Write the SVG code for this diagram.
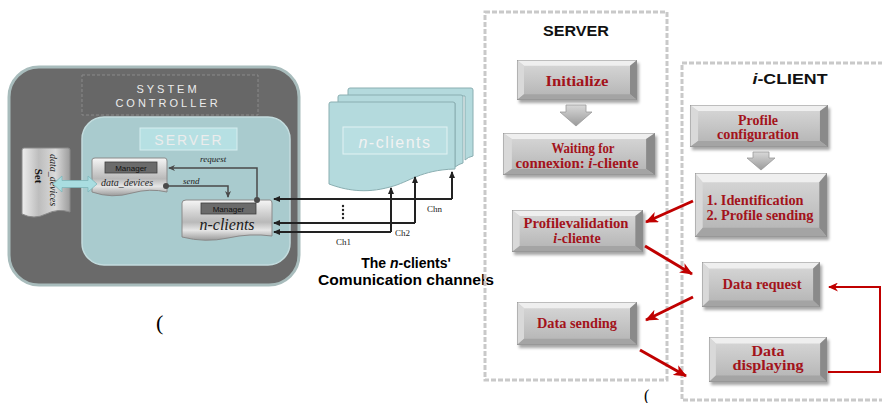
<svg xmlns="http://www.w3.org/2000/svg" xmlns:xlink="http://www.w3.org/1999/xlink" width="882" height="403" viewBox="0 0 882 403">
  <defs>
    <style>
      .btxt { font-family: "Liberation Serif", serif; font-weight: bold; font-size: 14px; fill: #a3131b; text-anchor: middle; }
      .ttl { font-family: "Liberation Sans", sans-serif; font-weight: bold; font-size: 15px; fill: #111; text-anchor: middle; }
      .mgr { font-family: "Liberation Sans", sans-serif; font-size: 8px; fill: #111; text-anchor: middle; }
      .lbl { font-family: "Liberation Serif", serif; font-style: italic; font-size: 9px; fill: #222; }
      .ch { font-family: "Liberation Serif", serif; font-size: 9px; fill: #222; }
      .ghost { font-family: "Liberation Sans", sans-serif; fill: #ececec; text-anchor: middle; }
      .dash { fill: none; stroke: #c9c9c9; stroke-width: 3; stroke-dasharray: 5 2; }
      .red { fill: none; stroke: #c00000; stroke-width: 3; marker-end: url(#rh); }
      .chn { fill: none; stroke: #222; stroke-width: 2; marker-end: url(#bh); }
      .gcon { fill: none; stroke: #4a4a4a; stroke-width: 1.5; }
      .page { fill: #b4dadd; stroke: #8aaeb1; stroke-width: 1; }
    </style>
    <linearGradient id="face" x1="0" y1="0" x2="0" y2="1">
      <stop offset="0" stop-color="#d9d9d9"/>
      <stop offset="0.5" stop-color="#c6c6c6"/>
      <stop offset="1" stop-color="#b2b2b2"/>
    </linearGradient>
    <linearGradient id="metal" x1="0" y1="0" x2="0" y2="1">
      <stop offset="0" stop-color="#f6f6f6"/>
      <stop offset="0.3" stop-color="#d4d4d4"/>
      <stop offset="0.55" stop-color="#b9b9b9"/>
      <stop offset="0.75" stop-color="#e6e6e6"/>
      <stop offset="1" stop-color="#9a9a9a"/>
    </linearGradient>
    <linearGradient id="metalH" x1="0" y1="0" x2="1" y2="0">
      <stop offset="0" stop-color="#eeeeee"/>
      <stop offset="0.35" stop-color="#bdbdbd"/>
      <stop offset="0.7" stop-color="#dadada"/>
      <stop offset="1" stop-color="#9c9c9c"/>
    </linearGradient>
    <linearGradient id="chev" x1="0" y1="0" x2="0" y2="1">
      <stop offset="0" stop-color="#d8d8d8"/>
      <stop offset="1" stop-color="#9a9a9a"/>
    </linearGradient>
    <filter id="sh" x="-10%" y="-10%" width="125%" height="135%">
      <feDropShadow dx="2" dy="3" stdDeviation="1.5" flood-color="#000" flood-opacity="0.35"/>
    </filter>
    <symbol id="btn" viewBox="0 0 120 42" preserveAspectRatio="none">
      <rect x="0" y="0" width="120" height="42" fill="url(#face)"/>
      <polygon points="0,0 120,0 113,6 7,6" fill="#efefef"/>
      <polygon points="0,0 7,6 7,36 0,42" fill="#d9d9d9"/>
      <polygon points="120,0 120,42 113,36 113,6" fill="#8a8a8a"/>
      <polygon points="0,42 7,36 113,36 120,42" fill="#a4a4a4"/>
      <rect x="0" y="0" width="120" height="42" fill="none" stroke="#8c8c8c" stroke-width="1" vector-effect="non-scaling-stroke"/>
    </symbol>
    <marker id="rh" markerWidth="13" markerHeight="11" refX="12" refY="5.5" orient="auto" markerUnits="userSpaceOnUse">
      <path d="M0,0 L13,5.5 L0,11 L3.5,5.5 Z" fill="#c00000"/>
    </marker>
    <marker id="rs" markerWidth="10" markerHeight="9" refX="9" refY="4.5" orient="auto" markerUnits="userSpaceOnUse">
      <path d="M0,0 L10,4.5 L0,9 L3,4.5 Z" fill="#c00000"/>
    </marker>
    <marker id="bh" markerWidth="7" markerHeight="6" refX="6" refY="3" orient="auto" markerUnits="userSpaceOnUse">
      <path d="M0,0 L7,3 L0,6 Z" fill="#222"/>
    </marker>
    <marker id="gh" markerWidth="7" markerHeight="6" refX="6" refY="3" orient="auto" markerUnits="userSpaceOnUse">
      <path d="M0,0 L7,3 L0,6 L2,3 Z" fill="#4a4a4a"/>
    </marker>
  </defs>

  <rect width="882" height="403" fill="#ffffff"/>

  <!-- System controller (left block) -->
  <g id="system-controller">
    <rect x="9" y="67" width="290" height="218" rx="30" fill="#6a6a6a" stroke="#a8bcbc" stroke-width="3"/>
    <rect x="82" y="75" width="176" height="40" fill="#676767" stroke="#8a8a8a" stroke-width="1" stroke-dasharray="3 2"/>
    <text class="ghost" x="168" y="93" font-size="11" letter-spacing="3">SYSTEM</text>
    <text class="ghost" x="168" y="107" font-size="11" letter-spacing="3">CONTROLLER</text>
  </g>

  <g id="server-block">
    <rect x="82" y="117" width="208" height="148" rx="22" fill="#a9cbce" stroke="#c3dcde" stroke-width="1.5"/>
    <rect x="140" y="128" width="97" height="22" fill="#b6e0e3" stroke="#d6eeef" stroke-width="1"/>
    <text class="ghost" x="189" y="145" font-size="14" letter-spacing="2" fill="#f4f4f4">SERVER</text>
  </g>

  <!-- Set of data devices -->
  <g id="set-data-devices">
    <path d="M22,150 Q22,148 24,148 H68 Q70,148 70,150 V212 Q58,208 46,214 Q34,220 22,214 Z" fill="url(#metalH)" stroke="#8a8a8a" stroke-width="1"/>
    <text x="35" y="176" transform="rotate(90 35 176)" font-family="Liberation Serif, serif" font-weight="bold" font-size="11" fill="#111" text-anchor="middle">Set</text>
    <text x="50" y="180" transform="rotate(90 50 180)" font-family="Liberation Serif, serif" font-style="italic" font-size="10" fill="#222" text-anchor="middle">data_devices</text>
  </g>

  <!-- Manager data_devices -->
  <g id="manager-data-devices">
    <path d="M92,160 Q92,158 95,158 H165 Q167,158 167,161 V192 Q150,188 132,193 Q112,199 92,192 Z" fill="url(#metal)" stroke="#8a8a8a" stroke-width="1"/>
    <rect x="105" y="162" width="52" height="11" fill="#6b6b6b" stroke="#3f3f3f" stroke-width="0.8"/>
    <text class="mgr" x="131" y="170.5">Manager</text>
    <text x="127" y="186" font-family="Liberation Serif, serif" font-style="italic" font-size="10" fill="#222" text-anchor="middle">data_devices</text>
  </g>

  <!-- Manager n-clients -->
  <g id="manager-n-clients">
    <path d="M182,203 Q182,200 186,200 H270 Q272,200 272,203 V236 Q250,233 228,238 Q205,243 182,237 Z" fill="url(#metal)" stroke="#8a8a8a" stroke-width="1"/>
    <rect x="201" y="203" width="55" height="11" fill="#6b6b6b" stroke="#3f3f3f" stroke-width="0.8"/>
    <text class="mgr" x="228.5" y="211.5">Manager</text>
    <text x="227" y="230" font-family="Liberation Serif, serif" font-style="italic" font-size="16" fill="#1a1a1a" text-anchor="middle">n-clients</text>
  </g>

  <!-- n-clients page stack -->
  <g id="n-clients-stack">
    <path class="page" d="M348,90 Q348,88 350,88 H471 Q473,88 473,90 V156 Q468,157 465,160 V96 H348 Z"/>
    <path class="page" d="M338,97 Q338,95 340,95 H461 Q463,95 463,97 V163 Q459,164 455,167 V103 H338 Z"/>
    <path class="page" d="M329,104 Q329,102 331,102 H453 Q455,102 455,104 V169 C420,170 410,182 390,187 C365,194 345,190 329,184 Z"/>
    <rect x="343" y="127" width="104" height="27" fill="#b9dfe2" stroke="#e2f2f3" stroke-width="1"/>
    <text x="395" y="148" font-family="Liberation Sans, sans-serif" font-size="16" fill="#f2f2f2" text-anchor="middle" letter-spacing="1.5"><tspan font-style="italic">n</tspan>-clients</text>
  </g>

  <!-- channel captions -->
  <g id="channel-caption">
    <text x="406" y="268" font-family="Liberation Sans, sans-serif" font-weight="bold" font-size="14" fill="#000" text-anchor="middle">The <tspan font-style="italic">n</tspan>-clients'</text>
    <text x="406" y="285" font-family="Liberation Sans, sans-serif" font-weight="bold" font-size="14" fill="#000" text-anchor="middle" textLength="176" lengthAdjust="spacingAndGlyphs">Comunication channels</text>
    <text class="ch" x="427" y="212">Chn</text>
    <text class="ch" x="395" y="236">Ch2</text>
    <text class="ch" x="336" y="245">Ch1</text>
  </g>

  <!-- Server flow panel -->
  <g id="server-panel">
    <rect class="dash" x="485" y="12" width="182" height="368"/>
    <text class="ttl" x="576" y="36" textLength="66" lengthAdjust="spacingAndGlyphs">SERVER</text>
  </g>

  <g id="btn-initialize">
    <use xlink:href="#btn" x="517" y="60" width="120" height="40" filter="url(#sh)"/>
    <text class="btxt" x="577" y="86" textLength="63" lengthAdjust="spacingAndGlyphs">Initialize</text>
  </g>
  <g id="chev-server">
    <polygon points="566,105 586,105 586,112 592,112 576,126 560,112 566,112" fill="url(#chev)" stroke="#999" stroke-width="0.8"/>
  </g>
  <g id="btn-waiting">
    <use xlink:href="#btn" x="503" y="133" width="152" height="42" filter="url(#sh)"/>
    <text class="btxt" x="583" y="153" font-size="12" textLength="63" lengthAdjust="spacingAndGlyphs">Waiting for</text>
    <text class="btxt" x="577" y="168" font-size="12" textLength="123" lengthAdjust="spacingAndGlyphs">connexion: <tspan font-style="italic">i</tspan>-cliente</text>
  </g>
  <g id="btn-profile-validation">
    <use xlink:href="#btn" x="512" y="210" width="131" height="42" filter="url(#sh)"/>
    <text class="btxt" x="576" y="228" textLength="105" lengthAdjust="spacingAndGlyphs">Profilevalidation</text>
    <text class="btxt" x="577" y="243"><tspan font-style="italic">i</tspan>-cliente</text>
  </g>
  <g id="btn-data-sending">
    <use xlink:href="#btn" x="517" y="302" width="120" height="43" filter="url(#sh)"/>
    <text class="btxt" x="577" y="328" textLength="80" lengthAdjust="spacingAndGlyphs">Data sending</text>
  </g>

  <!-- i-Client flow panel -->
  <g id="client-panel">
    <path class="dash" d="M890,63 H682 V400 H890"/>
    <text class="ttl" x="790" y="84" textLength="75" lengthAdjust="spacingAndGlyphs"><tspan font-style="italic">i</tspan>-CLIENT</text>
  </g>

  <g id="btn-profile-configuration">
    <use xlink:href="#btn" x="690" y="105" width="138" height="42" filter="url(#sh)"/>
    <text class="btxt" x="758" y="125" textLength="40" lengthAdjust="spacingAndGlyphs">Profile</text>
    <text class="btxt" x="758" y="139" textLength="82" lengthAdjust="spacingAndGlyphs">configuration</text>
  </g>
  <g id="chev-client">
    <polygon points="753,152 769,152 769,158 775,158 761,170 747,158 753,158" fill="url(#chev)" stroke="#999" stroke-width="0.8"/>
  </g>
  <g id="btn-identification">
    <use xlink:href="#btn" x="695" y="173" width="132" height="64" filter="url(#sh)"/>
    <text class="btxt" x="755" y="205" textLength="97" lengthAdjust="spacingAndGlyphs">1. Identification</text>
    <text class="btxt" x="760" y="220" textLength="107" lengthAdjust="spacingAndGlyphs">2. Profile sending</text>
  </g>
  <g id="btn-data-request">
    <use xlink:href="#btn" x="702" y="262" width="118" height="45" filter="url(#sh)"/>
    <text class="btxt" x="762" y="289" textLength="79" lengthAdjust="spacingAndGlyphs">Data request</text>
  </g>
  <g id="btn-data-displaying">
    <use xlink:href="#btn" x="709" y="337" width="118" height="45" filter="url(#sh)"/>
    <text class="btxt" x="768" y="356" textLength="33" lengthAdjust="spacingAndGlyphs">Data</text>
    <text class="btxt" x="768" y="370" textLength="71" lengthAdjust="spacingAndGlyphs">displaying</text>
  </g>

  <!-- connectors -->
  <g id="connectors">
    <!-- inside the server block -->
    <path class="gcon" d="M257,200 V168 H169" marker-end="url(#gh)"/>
    <circle cx="257" cy="200" r="3" fill="#4a4a4a"/>
    <path class="gcon" d="M166,186 H228 V197" marker-end="url(#gh)"/>
    <circle cx="166" cy="186" r="3" fill="#4a4a4a"/>
    <text class="lbl" x="200" y="162">request</text>
    <text class="lbl" x="183" y="184">send</text>
    <!-- data device link -->
    <path d="M53,184 L62,176 V180.5 H88 V176 L97,184 L88,192 V187.5 H62 V192 Z" fill="#a9dde1" stroke="#7fb6ba" stroke-width="0.8"/>

    <!-- communication channels -->
    <path class="chn" d="M452,199 V172"/>
    <path class="chn" d="M452,199 H274"/>
    <path class="chn" d="M415,223 V177"/>
    <path class="chn" d="M415,223 H274"/>
    <path class="chn" d="M391,232 V188"/>
    <path class="chn" d="M391,232 H274"/>
    <g fill="#222">
      <circle cx="343" cy="206" r="1.2"/>
      <circle cx="343" cy="210" r="1.2"/>
      <circle cx="343" cy="214" r="1.2"/>
      <circle cx="343" cy="218" r="1.2"/>
    </g>

    <!-- server / client message flow -->
    <path class="red" d="M693,201 L646,222"/>
    <path class="red" d="M645,246 L692,274"/>
    <path class="red" d="M693,297 L646,320"/>
    <path class="red" d="M640,350 L686,376"/>
    <path d="M828,372 H880 V287 H829" fill="none" stroke="#c00000" stroke-width="2" marker-end="url(#rs)"/>
  </g>

  <!-- stray parenthesis marks -->
  <text x="156" y="330" font-family="Liberation Serif, serif" font-size="22" fill="#000">(</text>
  <text x="644" y="401" font-family="Liberation Serif, serif" font-size="16" fill="#000">(</text>
</svg>
